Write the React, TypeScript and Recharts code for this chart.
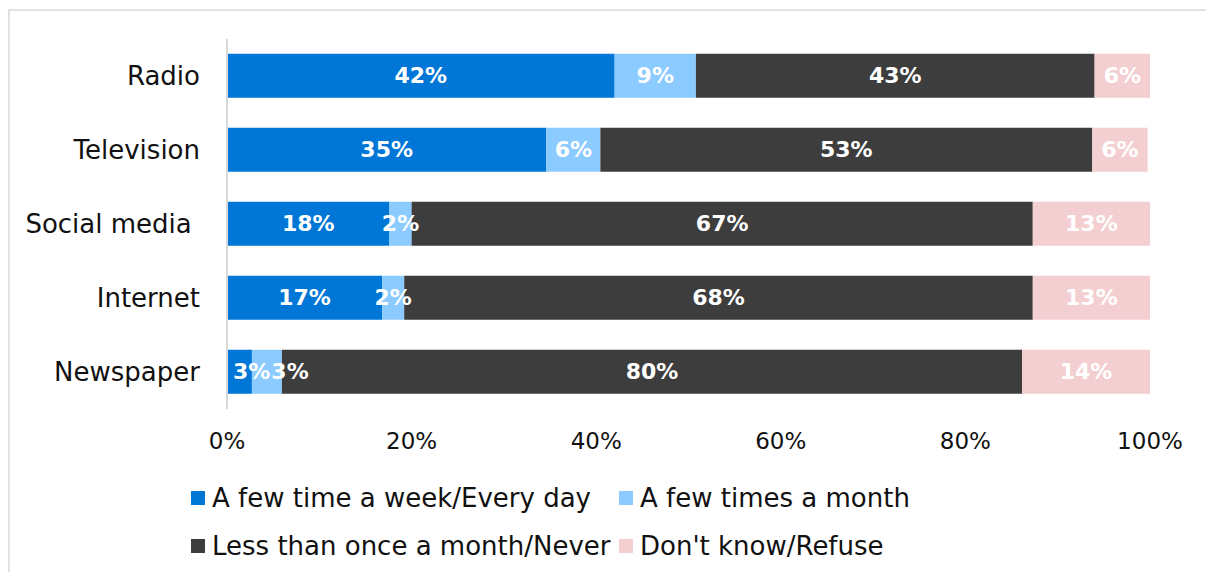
import React from 'react';
import { BarChart, Bar, XAxis, YAxis, LabelList } from 'recharts';

const categories = ['Radio', 'Television', 'Social media\u00A0', 'Internet', 'Newspaper'];
const weeklyDaily = [42.0, 34.6, 17.6, 16.8, 2.7];
const fewPerMonth = [8.8, 5.85, 2.4, 2.4, 3.25];
const lessNever = [43.2, 53.3, 67.3, 68.1, 80.2];
const dontKnow = [6.0, 6.0, 13.0, 13.0, 13.9];
const seriesNames = [
  'A few time a week/Every day',
  'A few times a month',
  'Less than once a month/Never',
  "Don't know/Refuse",
];
const seriesKeys = ['weekly', 'monthly', 'never', 'dk'];
const seriesColors = ['#0076D6', '#8CCBFF', '#3D3D3D', '#F4CFD1'];
const xTicks = [0, 20, 40, 60, 80, 100];
const seriesValues = [weeklyDaily, fewPerMonth, lessNever, dontKnow];

const data = categories.map((c, i) => ({
  name: c,
  weekly: weeklyDaily[i],
  monthly: fewPerMonth[i],
  never: lessNever[i],
  dk: dontKnow[i],
}));

const FONT = '"DejaVu Sans", sans-serif';
const LABEL_FS = 22;

const fmt = (v: number) => `${Math.round(v)}%`;
const textWidth = (s: string) => {
  let w = 0;
  for (const ch of s) w += ch === '%' ? 1.002 : 0.696;
  return w * LABEL_FS;
};

// Label that stays centred in its segment but is nudged right when it would
// collide with the previous label of the same row (or start before the bar).
const makeLabel = (seriesIndex: number) => (props: any) => {
  const { x, y, width, height, index } = props;
  const row = index;
  const cur = seriesValues[seriesIndex][row];
  if (!cur || !width) return null;
  const k = width / cur;
  let prevSum = 0;
  for (let s = 0; s < seriesIndex; s++) prevSum += seriesValues[s][row];
  const barStart = x - prevSum * k;
  let segStart = barStart;
  let prevRight = -Infinity;
  let left = 0;
  let w = 0;
  for (let s = 0; s <= seriesIndex; s++) {
    const v = seriesValues[s][row];
    const segW = v * k;
    const label = fmt(v);
    w = textWidth(label);
    const center = segStart + segW / 2;
    left = center - w / 2;
    if (s === 0) left = Math.max(left, barStart + 6);
    left = Math.max(left, prevRight + 1);
    prevRight = left + w;
    segStart += segW;
  }
  return (
    <text
      x={left + w / 2}
      y={y + height / 2}
      textAnchor="middle"
      dominantBaseline="central"
      fill="#ffffff"
      style={{ fontSize: LABEL_FS, fontWeight: 'bold', fontFamily: FONT }}
    >
      {fmt(cur)}
    </text>
  );
};

export default function App() {
  return (
    <div
      style={{
        position: 'absolute',
        left: 0,
        top: 0,
        width: 1206,
        height: 572,
        overflow: 'hidden',
        background: '#fff',
        fontFamily: FONT,
      }}
    >
      <div
        style={{
          position: 'absolute',
          left: 8,
          top: 9,
          width: 1400,
          height: 800,
          border: '2px solid #e2e2e2',
          boxSizing: 'border-box',
        }}
      />
      <div style={{ position: 'absolute', left: 0, top: 0 }}>
        <BarChart
          width={1206}
          height={572}
          data={data}
          layout="vertical"
          margin={{ top: 39, right: 56, bottom: 123, left: 0 }}
          barCategoryGap="20%"
        >
          <XAxis
            type="number"
            domain={[0, 100]}
            allowDataOverflow
            ticks={xTicks}
            tickFormatter={(v) => `${v}%`}
            axisLine={false}
            tickLine={false}
            tickSize={0}
            tickMargin={24}
            height={40}
            tick={{ fill: '#111', fontSize: 23, fontFamily: FONT }}
            interval={0}
          />
          <YAxis
            type="category"
            dataKey="name"
            width={227}
            axisLine={{ stroke: '#d9d9d9', strokeWidth: 2 }}
            tickLine={false}
            tickSize={0}
            tickMargin={27}
            tick={{ fill: '#111', fontSize: 26, fontFamily: FONT }}
            interval={0}
          />
          {seriesKeys.map((k, i) => (
            <Bar
              key={k}
              dataKey={k}
              stackId="a"
              fill={seriesColors[i]}
              isAnimationActive={false}
            >
              <LabelList dataKey={k} content={makeLabel(i)} />
            </Bar>
          ))}
        </BarChart>
      </div>
      {seriesNames.map((n, i) => {
        const col = i % 2;
        const row = Math.floor(i / 2);
        return (
          <div
            key={n}
            style={{
              position: 'absolute',
              left: col === 0 ? 191 : 619,
              top: row === 0 ? 482 : 530,
              height: 32,
              display: 'flex',
              alignItems: 'center',
              fontSize: 26,
              color: '#111',
              whiteSpace: 'nowrap',
            }}
          >
            <span
              style={{
                display: 'inline-block',
                width: 14,
                height: 14,
                background: seriesColors[i],
                marginRight: 7,
              }}
            />
            <span>{n}</span>
          </div>
        );
      })}
    </div>
  );
}
